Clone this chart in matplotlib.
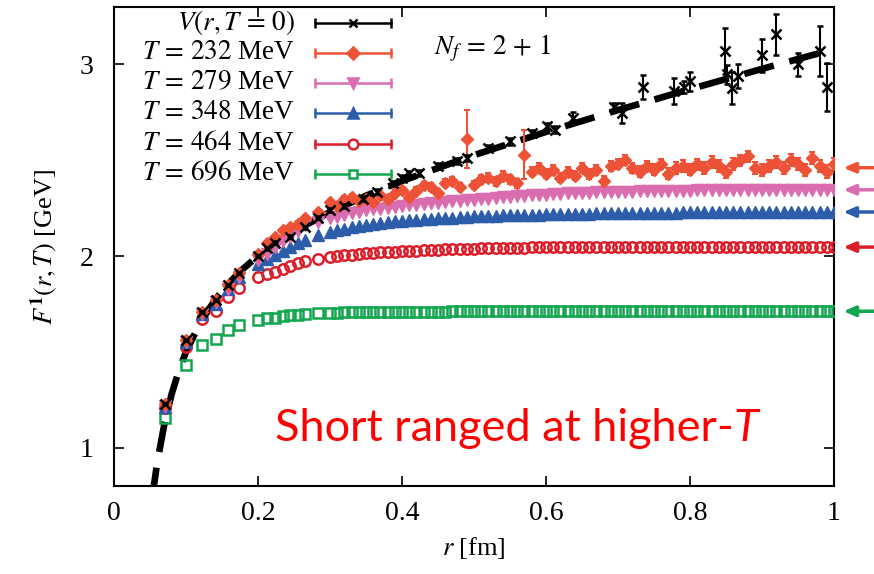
import matplotlib
matplotlib.use("Agg")
import matplotlib.pyplot as plt

plt.rcParams['font.family'] = ['Liberation Serif', 'DejaVu Serif']
plt.rcParams['mathtext.fontset'] = 'stix'

# ---------------- data ----------------
r_grid = [0.071, 0.100, 0.122, 0.141, 0.158, 0.173, 0.200, 0.212, 0.224, 0.235, 0.245, 0.255, 0.265, 0.283,
          0.30, 0.31, 0.32, 0.33, 0.34, 0.35, 0.36, 0.37, 0.38, 0.39,
          0.40, 0.41, 0.42, 0.43, 0.44, 0.45, 0.46, 0.47, 0.48, 0.49,
          0.50, 0.51, 0.52, 0.53, 0.54, 0.55, 0.56, 0.57, 0.58, 0.59,
          0.60, 0.61, 0.62, 0.63, 0.64, 0.65, 0.66, 0.67, 0.68, 0.69,
          0.70, 0.71, 0.72, 0.73, 0.74, 0.75, 0.76, 0.77, 0.78, 0.79,
          0.80, 0.81, 0.82, 0.83, 0.84, 0.85, 0.86, 0.87, 0.88, 0.89,
          0.90, 0.91, 0.92, 0.93, 0.94, 0.95, 0.96, 0.97, 0.98, 0.99, 1.00]

F_232 = [1.23, 1.56, 1.71, 1.77, 1.85, 1.91, 2.01, 2.07, 2.10, 2.136, 2.15, 2.17, 2.20, 2.23,
         2.28, 2.26, 2.30, 2.31, 2.29, 2.30, 2.28, 2.32, 2.30, 2.33,
         2.345, 2.31, 2.34, 2.37, 2.36, 2.33, 2.38, 2.39, 2.36, 2.61,
         2.37, 2.40, 2.41, 2.39, 2.42, 2.40, 2.38, 2.53, 2.44, 2.46,
         2.43, 2.45, 2.41, 2.44, 2.42, 2.46, 2.43, 2.45, 2.39, 2.47,
         2.48, 2.50, 2.46, 2.44, 2.47, 2.45, 2.48, 2.43, 2.46, 2.47,
         2.45, 2.48, 2.46, 2.49, 2.47, 2.44, 2.48, 2.50, 2.52, 2.46,
         2.45, 2.47, 2.49, 2.46, 2.50, 2.48, 2.45, 2.51, 2.47, 2.44, 2.48]
E_232 = [0.005, 0.005, 0.005, 0.006, 0.006, 0.007, 0.008, 0.008, 0.009, 0.010, 0.010, 0.011, 0.012, 0.012,
         0.013, 0.013, 0.014, 0.014, 0.015, 0.015, 0.016, 0.016, 0.017, 0.017,
         0.018, 0.018, 0.019, 0.019, 0.020, 0.020, 0.020, 0.021, 0.021, 0.150,
         0.021, 0.022, 0.022, 0.022, 0.023, 0.023, 0.023, 0.130, 0.024, 0.024,
         0.024, 0.025, 0.025, 0.025, 0.025, 0.026, 0.026, 0.026, 0.026, 0.027,
         0.027, 0.027, 0.027, 0.028, 0.028, 0.028, 0.028, 0.028, 0.029, 0.029,
         0.029, 0.029, 0.029, 0.030, 0.030, 0.030, 0.030, 0.030, 0.031, 0.031,
         0.031, 0.031, 0.031, 0.032, 0.032, 0.032, 0.032, 0.032, 0.033, 0.033, 0.033]

F_279 = [1.22, 1.55, 1.70, 1.76, 1.83, 1.89, 1.98, 2.01, 2.05, 2.08, 2.10, 2.13, 2.16, 2.18,
         2.200, 2.205, 2.215, 2.224, 2.232, 2.238, 2.244, 2.248, 2.252, 2.256,
         2.260, 2.264, 2.268, 2.272, 2.276, 2.279, 2.282, 2.285, 2.288, 2.291,
         2.294, 2.297, 2.300, 2.303, 2.306, 2.309, 2.312, 2.315, 2.317, 2.319,
         2.321, 2.323, 2.325, 2.327, 2.329, 2.330, 2.331, 2.332, 2.333, 2.334,
         2.335, 2.336, 2.337, 2.338, 2.339, 2.340, 2.340, 2.341, 2.341, 2.342,
         2.342, 2.343, 2.343, 2.343, 2.344, 2.344, 2.344, 2.345, 2.345, 2.345,
         2.345, 2.346, 2.346, 2.346, 2.346, 2.346, 2.347, 2.347, 2.347, 2.347, 2.347]

F_348 = [1.21, 1.55, 1.70, 1.75, 1.83, 1.89, 1.96, 1.984, 2.005, 2.028, 2.049, 2.066, 2.085, 2.11,
         2.125, 2.135, 2.143, 2.150, 2.157, 2.163, 2.168, 2.173, 2.177, 2.181,
         2.184, 2.187, 2.190, 2.193, 2.195, 2.197, 2.199, 2.201, 2.203, 2.205,
         2.207, 2.208, 2.209, 2.211, 2.212, 2.213, 2.214, 2.215, 2.216, 2.217,
         2.218, 2.219, 2.220, 2.220, 2.221, 2.222, 2.222, 2.223, 2.223, 2.224,
         2.224, 2.225, 2.225, 2.226, 2.226, 2.226, 2.227, 2.227, 2.227, 2.228,
         2.228, 2.228, 2.229, 2.229, 2.229, 2.229, 2.230, 2.230, 2.230, 2.230,
         2.230, 2.231, 2.231, 2.231, 2.231, 2.231, 2.232, 2.232, 2.232, 2.232, 2.232]

F_464 = [1.206, 1.524, 1.669, 1.712, 1.784, 1.831, 1.889, 1.906, 1.918, 1.935, 1.949, 1.962, 1.972, 1.985,
         1.996, 2.000, 2.004, 2.008, 2.011, 2.014, 2.017, 2.019, 2.021, 2.023,
         2.025, 2.027, 2.029, 2.031, 2.032, 2.034, 2.035, 2.036, 2.037, 2.038,
         2.039, 2.040, 2.041, 2.042, 2.042, 2.043, 2.044, 2.044, 2.045, 2.045,
         2.046, 2.046, 2.046, 2.047, 2.047, 2.047, 2.048, 2.048, 2.048, 2.048,
         2.048, 2.049, 2.049, 2.049, 2.049, 2.049, 2.049, 2.049, 2.049, 2.049,
         2.049, 2.049, 2.049, 2.050, 2.050, 2.050, 2.050, 2.050, 2.050, 2.050,
         2.050, 2.050, 2.050, 2.050, 2.050, 2.050, 2.050, 2.050, 2.050, 2.050, 2.050]

F_696 = [1.157, 1.433, 1.538, 1.565, 1.613, 1.639, 1.665, 1.675, 1.679, 1.686, 1.690, 1.695, 1.698, 1.702,
         1.704, 1.705, 1.706, 1.706, 1.707, 1.707, 1.708, 1.708, 1.708, 1.709,
         1.709, 1.709, 1.710, 1.710, 1.710, 1.710, 1.710, 1.711, 1.711, 1.711,
         1.711, 1.711, 1.711, 1.711, 1.711, 1.711, 1.711, 1.711, 1.711, 1.711,
         1.711, 1.711, 1.711, 1.712, 1.712, 1.712, 1.712, 1.712, 1.712, 1.712,
         1.712, 1.712, 1.712, 1.712, 1.712, 1.712, 1.712, 1.712, 1.712, 1.712,
         1.712, 1.712, 1.712, 1.712, 1.712, 1.712, 1.712, 1.712, 1.712, 1.712,
         1.712, 1.712, 1.712, 1.712, 1.712, 1.712, 1.712, 1.712, 1.712, 1.712, 1.712]

r_T0 = [0.071, 0.100, 0.122, 0.141, 0.158, 0.173, 0.200, 0.212, 0.224, 0.245, 0.265, 0.283, 0.300, 0.320,
        0.346, 0.365, 0.387, 0.400, 0.410, 0.423, 0.450, 0.476, 0.490, 0.519, 0.550, 0.580, 0.602, 0.613,
        0.637, 0.694, 0.706, 0.735, 0.778, 0.792, 0.800, 0.848, 0.851, 0.858, 0.867, 0.900, 0.920, 0.950,
        0.981, 0.990]
V_T0 = [1.23, 1.56, 1.71, 1.77, 1.85, 1.91, 2.00, 2.04, 2.07, 2.10, 2.15, 2.20, 2.24, 2.26,
        2.30, 2.337, 2.38, 2.41, 2.433, 2.433, 2.47, 2.494, 2.51, 2.564, 2.60, 2.64, 2.677, 2.66,
        2.72, 2.78, 2.747, 2.883, 2.86, 2.883, 2.913, 3.07, 2.948, 2.878, 2.942, 3.047, 3.157, 3.00,
        3.07, 2.883]
E_T0 = [0.004, 0.004, 0.005, 0.005, 0.005, 0.006, 0.006, 0.007, 0.007, 0.008, 0.008, 0.009, 0.010, 0.010,
        0.011, 0.012, 0.012, 0.013, 0.013, 0.014, 0.015, 0.016, 0.016, 0.017, 0.018, 0.019, 0.020, 0.020,
        0.030, 0.020, 0.052, 0.064, 0.068, 0.030, 0.050, 0.120, 0.050, 0.084, 0.063, 0.084, 0.105, 0.058,
        0.130, 0.124]

r_fit = [0.053, 0.06, 0.07, 0.08, 0.09, 0.10, 0.12, 0.14, 0.16, 0.18, 0.20, 0.25, 0.30, 0.35, 0.40,
         0.50, 0.60, 0.70, 0.80, 0.90, 1.00]
V_fit = [0.737, 0.922, 1.124, 1.279, 1.401, 1.500, 1.654, 1.770, 1.861, 1.936, 2.000, 2.129, 2.230, 2.315,
         2.392, 2.527, 2.648, 2.762, 2.871, 2.977, 3.080]

arrow_levels = [2.461, 2.346, 2.230, 2.047, 1.712]

labels = [r"$V(r,T\,=\,0)$", r"$T\,=\,232$ MeV", r"$T\,=\,279$ MeV", r"$T\,=\,348$ MeV",
          r"$T\,=\,464$ MeV", r"$T\,=\,696$ MeV"]

# ---------------- style ----------------
c_232 = '#EE5236'
c_279 = '#DA6DAF'
c_348 = '#2C5CAA'
c_464 = '#DA1F2B'
c_696 = '#12A64F'
colors = ['black', c_232, c_279, c_348, c_464, c_696]
markers = ['x', 'D', 'v', '^', 'o', 's']
msizes = [6, 6, 7.5, 7.5, 7, 6]
fills = [True, True, True, True, False, False]

fig = plt.figure(figsize=(8.74, 5.74), dpi=100)
ax = fig.add_axes([114/874, 1-486/574, 720/874, 479/574])

ax.plot(r_fit, V_fit, color='black', lw=4.8, dashes=(4.6, 2.4), solid_capstyle='butt',
        dash_capstyle='butt', zorder=2)

def series(x, y, yerr, color, marker, ms, filled, z):
    kw = dict(color=color, marker=marker, ms=ms, ls='none', zorder=z)
    if filled:
        kw.update(mfc=color, mec=color)
    else:
        kw.update(mfc='none', mec=color, mew=1.8)
    if yerr is not None:
        ax.errorbar(x, y, yerr=yerr, ecolor=color, elinewidth=1.5, capsize=2.5, capthick=1.5, **kw)
    else:
        ax.plot(x, y, **kw)

series(r_grid, F_696, None, c_696, 's', 6.5, False, 3)
series(r_grid, F_464, None, c_464, 'o', 7.5, False, 3)
series(r_grid, F_348, None, c_348, '^', 8, True, 3)
series(r_grid, F_279, None, c_279, 'v', 8, True, 3)
series(r_grid, F_232, E_232, c_232, 'D', 6.5, True, 4)
ax.errorbar(r_T0, V_T0, yerr=E_T0, color='black', marker='x', ms=6.5, mew=1.8, ls='none',
            elinewidth=1.5, capsize=2.5, capthick=1.5, zorder=5)

ax.set_xlim(0, 1)
ax.set_ylim(0.8, 3.3)
ax.set_xticks([0, 0.2, 0.4, 0.6, 0.8, 1.0])
ax.set_xticklabels(['0', '0.2', '0.4', '0.6', '0.8', '1'])
ax.set_yticks([1, 2, 3])
ax.set_yticklabels(['1', '2', '3'])
ax.tick_params(direction='in', top=True, right=True, length=7, width=1.2, labelsize=20)
ax.tick_params(axis='x', pad=11)
ax.tick_params(axis='y', pad=15)
for s in ax.spines.values():
    s.set_linewidth(1.5)
ax.set_xlabel(r"$r$ [fm]", fontsize=19, labelpad=6)
ax.set_ylabel(r"$F^{\mathbf{1}}(r,T)$ [GeV]", fontsize=19, labelpad=14)

# legend drawn gnuplot-style
rows = [0.967, 0.904, 0.841, 0.779, 0.714, 0.651]
for lab, yy, col, mk, ms, fl in zip(labels, rows, colors, markers, msizes, fills):
    ax.text(0.251, yy, lab, transform=ax.transAxes, ha='right', va='center', fontsize=19.5)
    ax.plot([0.279, 0.385], [yy, yy], transform=ax.transAxes, color=col, lw=1.8, zorder=6)
    ax.plot([0.279, 0.385], [yy, yy], transform=ax.transAxes, color=col, ls='none',
            marker='|', ms=7, mew=1.8, zorder=6)
    ax.plot([0.332], [yy], transform=ax.transAxes, color=col, marker=mk, ms=ms,
            mfc=(col if fl else 'white'), mec=col, mew=1.8, ls='none', zorder=7)

ax.text(0.444, 0.914, r"$N_f\,=\,2\,+\,1$", transform=ax.transAxes, ha='left', va='center', fontsize=19.5)

# right-side arrows
for lev, col in zip(arrow_levels, [c_232, c_279, c_348, c_464, c_696]):
    ax.annotate('', xy=(1.013, lev), xytext=(1.058, lev),
                xycoords=('axes fraction', 'data'), textcoords=('axes fraction', 'data'),
                arrowprops=dict(arrowstyle='-|>,head_length=0.7,head_width=0.3', color=col, lw=2.5,
                                shrinkA=0, shrinkB=0), annotation_clip=False)

# annotation text
t1 = ax.text(0.224, 1.037, "Short ranged at higher-", color='#FF0000', fontsize=32.5,
             family=['Lato', 'DejaVu Sans'], ha='left', va='baseline', zorder=8)
fig.canvas.draw()
bb = t1.get_window_extent(renderer=fig.canvas.get_renderer())
x_end = ax.transData.inverted().transform((bb.x1, bb.y0))[0]
ax.text(x_end, 1.037, "T", color='#FF0000', fontsize=32.5, style='italic',
        family=['Lato', 'DejaVu Sans'], ha='left', va='baseline', zorder=8)

fig.savefig('out.png', dpi=100)
